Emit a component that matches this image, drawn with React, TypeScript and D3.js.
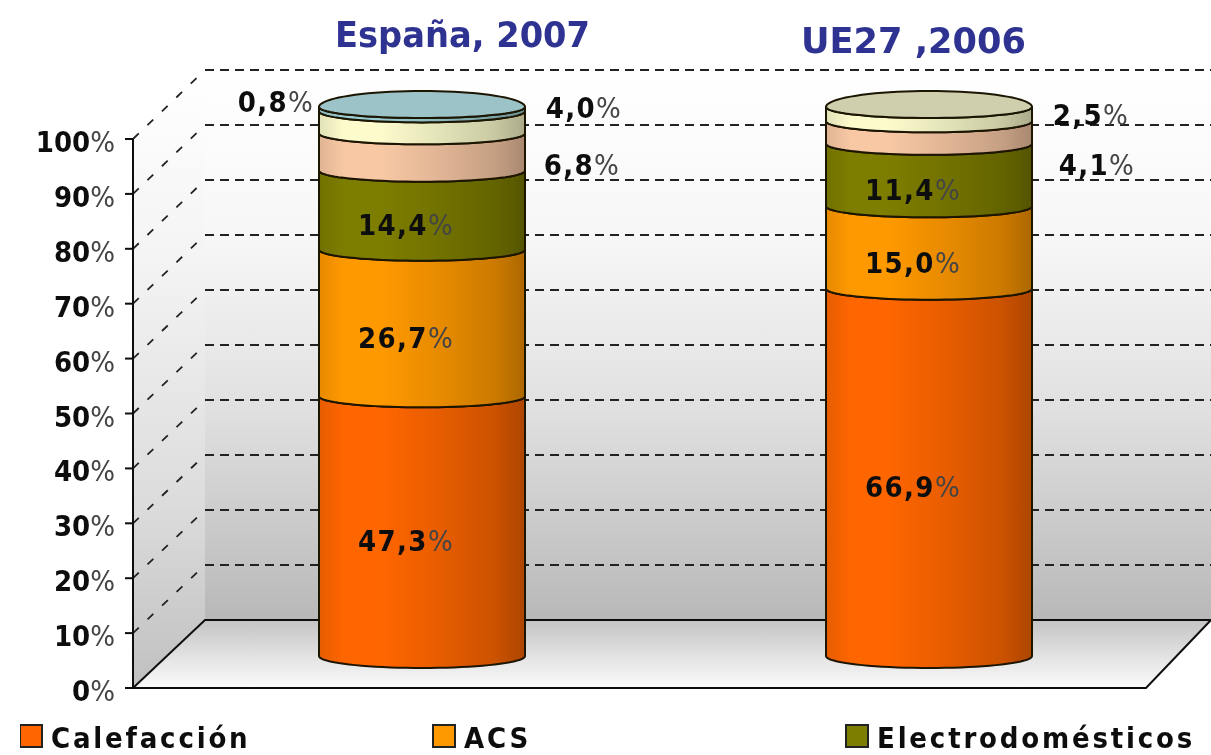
import React from "react";
import * as d3 from "d3";

const W = 1211;
const H = 755;

const legendNames = ["Calefacción", "ACS", "Electrodomésticos"];
const espana = [47.3, 26.7, 14.4, 6.8, 4.0, 0.8];
const ue27 = [66.9, 15.0, 11.4, 4.1, 2.5];
const titles = ["España, 2007", "UE27 ,2006"];
const espanaLabels = ["47,3", "26,7", "14,4", "6,8", "4,0", "0,8"];
const ue27Labels = ["66,9", "15,0", "11,4", "4,1", "2,5"];
const ticks = d3.range(0, 101, 10);

const bandColors = ["#ff6600", "#ff9900", "#7d7d00", "#f8c8a4", "#fbfbcc", "#99ccd0"];
const topColors = ["#9cc3c8", "#cfcfae"];

// shading across a cylinder, left to right
const shade: [number, number][] = [
  [0, 0.9],
  [0.12, 1],
  [0.3, 1],
  [0.6, 0.9],
  [0.85, 0.8],
  [1, 0.68],
];

const front = d3.scaleLinear().domain([0, 100]).range([688, 139]);
const back = d3.scaleLinear().domain([0, 100]).range([620, 70]);
const cyl = d3.scaleLinear().domain([0, 100]).range([656, 107]);

const wallLeft = 205;
const axisX = 133;
const floorRight = 1146;
const wallRight = 1211;

const cylCx = [422, 929];
const cylRx = 103;
const ryBand = 11;
const ryBottom = 12;
const ryTop = 16;

const font = "'DejaVu Sans Condensed', 'DejaVu Sans', Verdana, sans-serif";

const line = d3
  .line<number[]>()
  .x((d) => d[0])
  .y((d) => d[1]);

function edge(cx: number, y: number, ry: number, from: number, to: number) {
  return d3.range(0, 41).map((i) => {
    const a = from + ((to - from) * i) / 40;
    return [cx + cylRx * Math.cos(a), y + ry * Math.sin(a)];
  });
}

function bandPath(cx: number, lo: number, hi: number) {
  const pts = [
    ...edge(cx, cyl(lo), lo === 0 ? ryBottom : ryBand, Math.PI, 0),
    ...edge(cx, cyl(hi), ryBand, 0, Math.PI),
  ];
  return line(pts) + "Z";
}

function Label({ x, y, value }: any) {
  return (
    <text x={x} y={y} textAnchor="middle" fontFamily={font} fontSize={29} fill="#111" letterSpacing={1.4}>
      <tspan fontWeight="bold">{value}</tspan>
      <tspan fontWeight="normal" fill="#444">%</tspan>
    </text>
  );
}

function Cylinder({ index, values, labels }: any) {
  const cx = cylCx[index];
  const cum = Array.from(d3.cumsum(values)) as number[];
  const topY = cyl(100);
  const mid = (i: number) => cyl((i === 0 ? 0 : cum[i - 1]) / 2 + cum[i] / 2);
  // small bands have their label outside the cylinder, next to the band
  const outside: Record<number, [number, number]> = index === 0
    ? { 3: [160, 23], 4: [162, -4], 5: [-146, 3] }
    : { 3: [168, 42], 4: [162, 11] };
  return (
    <g>
      {values.map((v: number, i: number) => {
        const lo = i === 0 ? 0 : cum[i - 1];
        const hi = i === values.length - 1 ? 100 : cum[i];
        return (
          <path
            key={i}
            d={bandPath(cx, lo, hi)}
            fill={`url(#band${i})`}
            stroke="#1c1405"
            strokeWidth={2}
          />
        );
      })}
      <path
        d={
          line([
            ...edge(cx, topY, ryTop, Math.PI, 2 * Math.PI),
            ...edge(cx, topY, ryBand, 0, Math.PI),
          ]) + "Z"
        }
        fill={topColors[index]}
        stroke="#1c1405"
        strokeWidth={2}
      />
      {labels.map((l: string, i: number) => {
        const off = outside[i];
        return (
          <Label
            key={l}
            x={cx + (off ? off[0] : -16)}
            y={mid(i) + (off ? off[1] : 25)}
            value={l}
          />
        );
      })}
    </g>
  );
}

export default function App() {
  const legendX = [20, 433, 846];
  return (
    <svg
      width={W}
      height={H}
      viewBox={`0 0 ${W} ${H}`}
      style={{ position: "absolute", left: 0, top: 0, display: "block" }}
    >
      <defs>
        <filter id="soft" x="0" y="0" width="1" height="1">
          <feGaussianBlur stdDeviation="0.5" />
        </filter>
        <linearGradient id="wall" x1="0" x2="0" y1="0" y2="1">
          <stop offset="0" stopColor="#ffffff" />
          <stop offset="0.3" stopColor="#f7f7f8" />
          <stop offset="0.62" stopColor="#e0e0e0" />
          <stop offset="1" stopColor="#b8b8b8" />
        </linearGradient>
        <linearGradient id="side" x1="0" x2="0" y1="0" y2="1">
          <stop offset="0" stopColor="#ffffff" />
          <stop offset="0.3" stopColor="#f4f4f4" />
          <stop offset="0.7" stopColor="#dcdcdc" />
          <stop offset="1" stopColor="#c0c0c0" />
        </linearGradient>
        <linearGradient id="floor" x1="0" x2="0" y1="0" y2="1">
          <stop offset="0" stopColor="#c4c4c4" />
          <stop offset="0.6" stopColor="#e6e6e6" />
          <stop offset="1" stopColor="#fafafa" />
        </linearGradient>
        {bandColors.map((c, i) => (
          <linearGradient key={i} id={`band${i}`} x1="0" x2="1" y1="0" y2="0">
            {shade.map(([o, k]) => {
              const col = d3.rgb(c);
              return (
                <stop
                  key={o}
                  offset={o}
                  stopColor={d3.rgb(col.r * k, col.g * k, col.b * k).formatHex()}
                />
              );
            })}
          </linearGradient>
        ))}
      </defs>

      <rect width={W} height={H} fill="#fff" />

      <g filter="url(#soft)">
        {/* back wall, side wall, floor */}
        <rect x={wallLeft} y={back(100)} width={wallRight - wallLeft} height={back(0) - back(100)} fill="url(#wall)" />
        <polygon
          points={[
            [axisX, front(100)],
            [wallLeft, back(100)],
            [wallLeft, back(0)],
            [axisX, front(0)],
          ].join(" ")}
          fill="url(#side)"
        />
        <polygon
          points={[
            [wallLeft, back(0)],
            [wallRight, back(0)],
            [floorRight, front(0)],
            [axisX, front(0)],
          ].join(" ")}
          fill="url(#floor)"
        />
        <path
          d={`M${axisX},${front(0)}L${wallLeft},${back(0)}H${wallRight}M${axisX - 8},${front(0)}H${floorRight}L${wallRight},${back(0)}`}
          fill="none"
          stroke="#111"
          strokeWidth={2}
        />

        {/* gridlines */}
        {ticks.slice(1).map((t) => (
          <g key={t}>
            <line x1={wallLeft} x2={wallRight} y1={back(t)} y2={back(t)} stroke="#222" strokeWidth={2} strokeDasharray="9 6" />
            <line x1={axisX} x2={wallLeft} y1={front(t)} y2={back(t)} stroke="#222" strokeWidth={1.8} strokeDasharray="8 12" />
          </g>
        ))}

        {/* value axis */}
        <line x1={axisX} x2={axisX} y1={front(100)} y2={front(0)} stroke="#111" strokeWidth={2} />
        {ticks.map((t) => (
          <g key={t}>
            <line x1={axisX - 8} x2={axisX} y1={front(t)} y2={front(t)} stroke="#111" strokeWidth={2} />
            <text
              x={115}
              y={front(t) + 13}
              textAnchor="end"
              fontFamily={font}
              fontSize={29}
              fill="#111"
            >
              <tspan fontWeight="bold">{t}</tspan>
              <tspan fill="#444">%</tspan>
            </text>
          </g>
        ))}

        <Cylinder index={0} values={espana} labels={espanaLabels} />
        <Cylinder index={1} values={ue27} labels={ue27Labels} />

        {/* titles */}
        <text x={335} y={47} textLength={255} lengthAdjust="spacingAndGlyphs" fontFamily={font} fontWeight="bold" fontSize={36} fill="#2f3390">
          {titles[0]}
        </text>
        <text x={801} y={53} textLength={225} lengthAdjust="spacingAndGlyphs" fontFamily={font} fontWeight="bold" fontSize={36} fill="#2f3390">
          {titles[1]}
        </text>

        {/* legend */}
        {legendNames.map((name, i) => (
          <g key={name}>
            <rect x={legendX[i]} y={725} width={22} height={22} fill={bandColors[i]} stroke="#222" strokeWidth={2} />
            <text
              x={legendX[i] + 31}
              y={748}
              fontFamily={font}
              fontSize={29}
              letterSpacing={2.8}
              fontWeight="bold"
              fill="#111"
            >
              {name}
            </text>
          </g>
        ))}
      </g>
    </svg>
  );
}
